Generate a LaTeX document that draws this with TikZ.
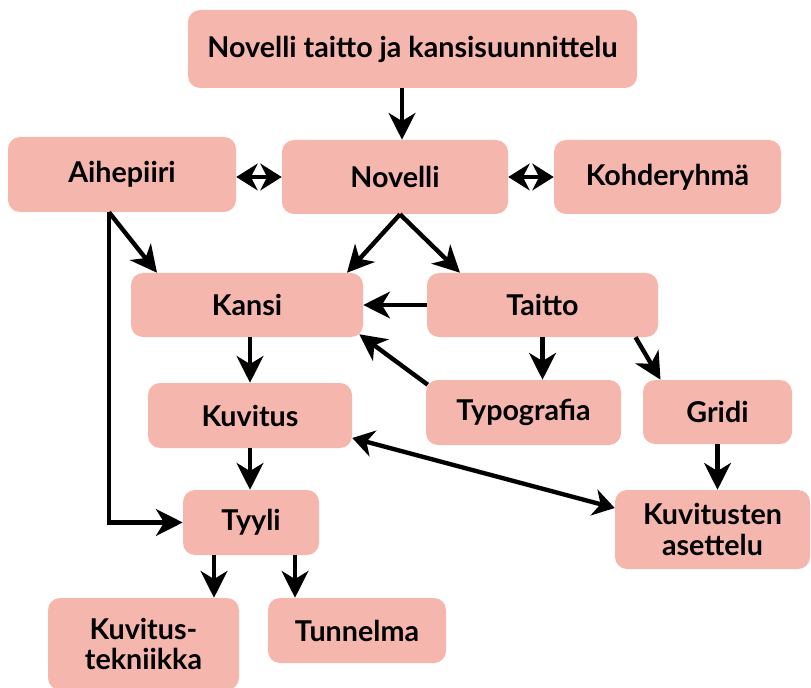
\documentclass[tikz,border=0pt]{standalone}
\usepackage{fontspec}
\setmainfont{Lato}
\usetikzlibrary{arrows.meta,calc}
\definecolor{boxfill}{HTML}{F5B7AD}
\tikzset{
  bx/.style={fill=boxfill, draw=none, rounded corners=9pt, inner sep=0pt,
    font=\fontsize{21.5}{23}\selectfont\bfseries, align=center, text=black},
  arr/.style={line width=3.3pt, -{Stealth[length=20pt,width=20pt,inset=6pt]}},
  darr/.style={line width=3.3pt, {Stealth[length=16pt,width=20pt,inset=5pt]}-{Stealth[length=16pt,width=20pt,inset=5pt]}}
}
\begin{document}
\begin{tikzpicture}[x=0.75pt,y=-0.75pt]
\clip (0,0) rectangle (811,688);
\fill[white] (0,0) rectangle (811,688);
\node[bx, minimum width=449*0.75pt, minimum height=78*0.75pt] (top) at (412.5,49) {Novelli taitto ja kansisuunnittelu};
\node[bx, minimum width=228*0.75pt, minimum height=75*0.75pt] (aih) at (122,174.5) {Aihepiiri};
\node[bx, minimum width=226*0.75pt, minimum height=74*0.75pt] (nov) at (395,177) {Novelli};
\node[bx, minimum width=227*0.75pt, minimum height=74*0.75pt] (koh) at (667.5,177) {Kohderyhmä};
\node[bx, minimum width=232*0.75pt, minimum height=64*0.75pt] (kan) at (247,305) {Kansi};
\node[bx, minimum width=231*0.75pt, minimum height=64*0.75pt] (tai) at (542.5,305) {Taitto};
\node[bx, minimum width=204*0.75pt, minimum height=65*0.75pt] (kuv) at (250,415.5) {Kuvitus};
\node[bx, minimum width=195*0.75pt, minimum height=65*0.75pt] (typ) at (523.5,412.5) {Typografia};
\node[bx, minimum width=149*0.75pt, minimum height=64*0.75pt] (gri) at (717.5,412) {Gridi};
\node[bx, minimum width=195*0.75pt, minimum height=79*0.75pt] (ase) at (712.5,529.5) {Kuvitusten\\asettelu};
\node[bx, minimum width=136*0.75pt, minimum height=65*0.75pt] (tyy) at (251,522.5) {Tyyli};
\node[bx, minimum width=191*0.75pt, minimum height=92*0.75pt] (tek) at (143.5,644) {Kuvitus-\\tekniikka};
\node[bx, minimum width=178*0.75pt, minimum height=65*0.75pt] (tun) at (357,630.5) {Tunnelma};

\draw[arr] ($(top.south)+(-10.5,0)$) -- ($(nov.north)+(7,0)$);
\draw[darr] ($(aih.east)+(0,2.5)$) -- (nov.west);
\draw[darr] (nov.east) -- (koh.west);
\draw[arr] ($(nov.south)+(5,0)$) -- ($(kan.north)+(100,0)$);
\draw[arr] ($(nov.south)+(5,0)$) -- ($(tai.north)+(-82.5,0)$);
\draw[arr] ($(aih.south)+(-13,0)$) -- ($(kan.north)+(-90,0)$);
\draw[arr] ($(aih.south)+(-13,0)$) |- (tyy.west);
\draw[arr] (tai.west) -- (kan.east);
\draw[arr] ($(typ.north west)+(2,5)$) -- ($(kan.south east)+(-4,-3)$);
\draw[arr] (tai.south) -- ($(typ.north)+(19,0)$);
\draw[arr] ($(tai.south)+(93,0)$) -- ($(gri.north)+(-57,0)$);
\draw[arr] ($(kan.south)+(3,0)$) -- (kuv.north);
\draw[arr] (kuv.south) -- ($(tyy.north)+(-1,0)$);
\draw[darr] ($(kuv.east)+(0,22.5)$) -- ($(ase.west)+(0,-21.5)$);
\draw[arr] (gri.south) -- ($(ase.north)+(5,0)$);
\draw[arr] ($(tyy.south)+(-37,0)$) -- ($(tek.north)+(70.5,0)$);
\draw[arr] ($(tyy.south)+(44,0)$) -- ($(tun.north)+(-62,0)$);
\end{tikzpicture}
\end{document}
